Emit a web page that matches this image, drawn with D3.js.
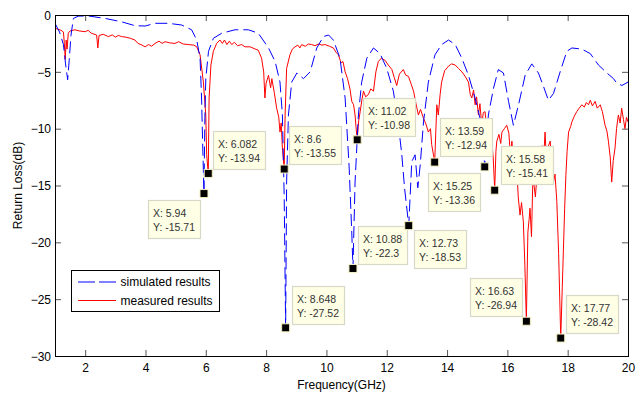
<!DOCTYPE html>
<html><head><meta charset="utf-8">
<script src="https://cdn.jsdelivr.net/npm/d3@7"></script>
<style>
html,body{margin:0;padding:0;background:#fff;}
svg{display:block;font-family:"Liberation Sans",Arial,sans-serif;}
</style></head>
<body>
<svg id="chart" width="642" height="394"></svg>
<script>
// ---------- data ----------
const simFreq = [1.00,1.15,1.28,1.35,1.42,1.47,1.53,1.61,1.77,2.1,2.66,3.21,3.65,3.99,4.32,4.76,5.2,5.53,5.7,5.81,5.86,5.9,5.94,5.97,6.0,6.09,6.25,6.53,6.97,7.41,7.74,8.08,8.3,8.46,8.54,8.6,8.648,8.68,8.74,8.85,9.02,9.24,9.46,9.68,9.9,10.07,10.23,10.45,10.62,10.75,10.84,10.88,10.95,11.06,11.17,11.34,11.56,11.78,12.0,12.22,12.39,12.5,12.59,12.73,12.83,12.94,13.03,13.11,13.22,13.38,13.6,13.82,14.05,14.27,14.49,14.71,14.93,15.15,15.25,15.37,15.54,15.7,15.87,16.04,16.2,16.37,16.59,16.81,17.03,17.2,17.36,17.53,17.75,17.97,18.14,18.47,18.75,19.02,19.3,19.52,19.63,19.8,20.0];
const simRL = [-0.73,-1.5,-2.6,-4.3,-5.7,-4.0,-1.8,-0.3,-0.1,-0.08,-0.3,-0.6,-0.94,-0.97,-0.73,-0.73,-0.88,-1.3,-2.2,-3.8,-7.3,-11.7,-15.71,-9.0,-5.6,-3.2,-2.05,-1.6,-1.3,-1.3,-1.6,-2.9,-4.1,-5.9,-8.8,-16,-27.52,-14.7,-8.8,-5.9,-5.1,-5.6,-5.0,-2.9,-1.9,-1.76,-2.2,-3.8,-7.3,-13.2,-19.1,-22.3,-14.7,-8.8,-5.9,-3.8,-2.9,-3.4,-4.7,-6.7,-9.7,-12.3,-15.2,-18.53,-12.9,-12.3,-15.2,-13.2,-9.4,-5.9,-3.5,-2.6,-2.2,-2.6,-3.8,-5.3,-7.3,-9.7,-13.36,-8.8,-6.45,-4.8,-5.1,-7.6,-9.7,-7.9,-5.3,-4.3,-5.1,-6.3,-7.5,-6.9,-5.0,-3.2,-2.9,-3.0,-3.4,-4.4,-5.1,-5.6,-6.0,-6.2,-5.9];

const measFreq = [1.00,1.1,1.2,1.28,1.31,1.34,1.37,1.40,1.44,1.5,1.66,1.8,2.0,2.1,2.2,2.38,2.42,2.46,2.6,2.77,2.9,3.0,3.1,3.21,3.35,3.5,3.65,3.75,3.85,3.99,4.1,4.2,4.32,4.45,4.55,4.65,4.8,4.98,5.1,5.25,5.42,5.6,5.7,5.81,5.92,6.0,6.03,6.082,6.11,6.17,6.25,6.36,6.47,6.55,6.62,6.7,6.78,6.86,6.95,7.05,7.19,7.3,7.47,7.6,7.74,7.85,7.92,7.96,8.0,8.08,8.15,8.19,8.27,8.35,8.42,8.46,8.5,8.54,8.6,8.63,8.68,8.79,8.87,8.96,9.05,9.12,9.18,9.3,9.4,9.51,9.62,9.75,9.85,9.96,10.1,10.23,10.32,10.4,10.48,10.55,10.62,10.7,10.78,10.84,10.9,10.95,10.98,11.02,11.07,11.12,11.18,11.23,11.3,11.39,11.47,11.56,11.64,11.72,11.82,11.95,12.05,12.17,12.25,12.33,12.42,12.55,12.63,12.72,12.8,12.89,12.97,13.05,13.12,13.22,13.3,13.38,13.45,13.49,13.59,13.66,13.71,13.77,13.82,13.92,14.05,14.15,14.27,14.38,14.49,14.6,14.71,14.77,14.82,14.88,14.93,14.98,15.04,15.09,15.15,15.2,15.26,15.31,15.37,15.42,15.48,15.53,15.58,15.62,15.65,15.72,15.78,15.82,15.9,15.98,16.05,16.1,16.15,16.22,16.28,16.31,16.36,16.42,16.47,16.53,16.58,16.63,16.68,16.72,16.75,16.8,16.84,16.87,16.93,16.98,17.04,17.09,17.15,17.2,17.25,17.3,17.35,17.42,17.48,17.53,17.58,17.64,17.7,17.77,17.82,17.86,17.9,17.94,17.98,18.03,18.1,18.14,18.22,18.3,18.38,18.47,18.55,18.62,18.69,18.75,18.82,18.91,18.98,19.08,19.15,19.24,19.3,19.35,19.41,19.46,19.51,19.57,19.62,19.68,19.74,19.79,19.85,19.9,19.95,20.0];
const measRL = [-1.17,-1.25,-1.35,-1.5,-2.5,-3.9,-2.2,-3.0,-1.6,-1.4,-1.3,-1.4,-1.47,-1.35,-1.6,-1.76,-2.9,-1.8,-1.7,-1.9,-1.75,-1.95,-1.8,-1.9,-1.95,-2.05,-2.2,-2.5,-2.6,-2.8,-2.6,-2.75,-2.5,-2.3,-2.5,-2.35,-2.45,-2.5,-2.35,-2.55,-2.6,-2.65,-2.8,-3.5,-5.9,-8.8,-12.3,-13.94,-7.3,-4.4,-3.2,-2.5,-2.2,-2.5,-2.2,-2.6,-2.3,-2.6,-2.4,-2.7,-2.6,-2.8,-2.8,-2.95,-3.1,-3.8,-5.0,-7.3,-6.0,-5.3,-6.4,-5.6,-6.8,-8.2,-9.0,-10.3,-9.5,-11.7,-13.55,-8.8,-4.7,-3.5,-3.0,-2.8,-2.65,-2.9,-2.6,-2.75,-2.55,-2.6,-2.7,-2.55,-2.65,-2.6,-2.75,-2.9,-3.3,-3.5,-4.2,-4.1,-5.0,-5.6,-6.5,-7.6,-7.9,-8.8,-9.8,-10.98,-9.3,-8.5,-7.4,-6.7,-7.2,-7.0,-6.5,-6.7,-5.0,-4.1,-3.8,-4.0,-4.4,-4.8,-5.5,-6.2,-5.2,-4.8,-5.3,-5.4,-6.0,-6.7,-7.8,-8.8,-8.3,-9.1,-9.6,-10.3,-10.0,-11.4,-12.94,-7.9,-8.8,-7.0,-5.9,-4.9,-4.5,-4.3,-4.4,-4.7,-5.0,-5.4,-5.9,-7.0,-7.3,-6.6,-7.9,-7.2,-8.8,-7.8,-9.7,-8.6,-8.5,-9.8,-10.3,-9.2,-11.1,-12.5,-15.41,-12.0,-11.1,-10.5,-11.3,-10.3,-10.0,-9.7,-10.4,-12.4,-11.1,-13.5,-12.5,-13.2,-16.0,-17.6,-16.5,-18.2,-22,-26.94,-19.1,-18.0,-17.0,-19.5,-15.0,-14.7,-16.0,-14.1,-13.4,-12.3,-11.5,-12.8,-10.3,-13.0,-11.6,-11.1,-13.5,-14.7,-14.0,-16.4,-21,-28.42,-24,-20.5,-17,-14.1,-12.0,-10.3,-9.8,-9.4,-8.9,-8.5,-8.2,-7.9,-8.1,-7.7,-7.9,-7.5,-8.0,-7.6,-8.2,-7.9,-8.5,-9.7,-10.2,-11.1,-12.5,-14.7,-12.8,-11.7,-10.0,-8.8,-9.5,-8.2,-9.2,-10.0,-9.0,-9.4];

const tipX = [5.94, 6.082, 8.6, 11.02, 13.59, 15.25, 15.58, 10.88, 12.73, 8.648, 16.63, 17.77];
const tipY = [-15.71, -13.94, -13.55, -10.98, -12.94, -13.36, -15.41, -22.3, -18.53, -27.52, -26.94, -28.42];
const tipXLabel = ["5.94","6.082","8.6","11.02","13.59","15.25","15.58","10.88","12.73","8.648","16.63","17.77"];
const tipYLabel = ["-15.71","-13.94","-13.55","-10.98","-12.94","-13.36","-15.41","-22.3","-18.53","-27.52","-26.94","-28.42"];

const xTicks = [2,4,6,8,10,12,14,16,18,20];
const yTicks = [0,-5,-10,-15,-20,-25,-30];
const seriesNames = ["simulated results","measured results"];

// ---------- layout ----------
const L = 55, R = 628, T = 15, B = 356;
// data-tip box placement relative to marker (px): [dx, dy]
const tipPlace = [[-56,6],[5,-42],[5,-43],[6,-42],[5,-44],[-57,6],[6,-44],[5,-42],[5,4],[6,-42],[-56,-43],[5,-43]];

const svg = d3.select("#chart");
svg.append("rect").attr("width",642).attr("height",394).attr("fill","#fff");

const x = d3.scaleLinear().domain([1,20]).range([L,R]);
const y = d3.scaleLinear().domain([-30,0]).range([B,T]);

svg.append("defs").append("clipPath").attr("id","clip")
  .append("rect").attr("x",L).attr("y",T).attr("width",R-L).attr("height",B-T);

// axes (MATLAB style ticks inward)
const tickLen = 6;
const gx = svg.append("g").attr("transform",`translate(0,${B})`)
  .call(d3.axisBottom(x).tickValues(xTicks).tickSize(-tickLen).tickPadding(7).tickFormat(d3.format("d")));
const gxt = svg.append("g").attr("transform",`translate(0,${T})`)
  .call(d3.axisTop(x).tickValues(xTicks).tickSize(-tickLen).tickFormat(""));
const gy = svg.append("g").attr("transform",`translate(${L},0)`)
  .call(d3.axisLeft(y).tickValues(yTicks).tickSize(-tickLen).tickPadding(4).tickFormat(d3.format("d")));
const gyr = svg.append("g").attr("transform",`translate(${R},0)`)
  .call(d3.axisRight(y).tickValues(yTicks).tickSize(-tickLen).tickFormat(""));
[gx,gxt,gy,gyr].forEach(g=>{
  g.select(".domain").remove();
  g.selectAll(".tick line").attr("stroke","#555").attr("stroke-width",1);
  g.selectAll(".tick text").attr("font-size",12).attr("fill","#000")
   .attr("font-family","'Liberation Sans',Arial,sans-serif");
});
gy.selectAll(".tick text").attr("dy","0.35em");

// curves
const line = d3.line().x(d=>x(d[0])).y(d=>y(d[1]));
const plot = svg.append("g").attr("clip-path","url(#clip)");
const simData = simFreq.map((f,i)=>[f,simRL[i]]);
const measData = measFreq.map((f,i)=>[f,measRL[i]]);
plot.append("path").datum(measData).attr("d",line)
  .attr("fill","none").attr("stroke","#ff0000").attr("stroke-width",1);
plot.append("path").datum(simData).attr("d",line)
  .attr("fill","none").attr("stroke","#0000ff").attr("stroke-width",1)
  .attr("stroke-dasharray","12,5");

// box frame
svg.append("rect").attr("x",L+0.5).attr("y",T+0.5).attr("width",R-L).attr("height",B-T)
  .attr("fill","none").attr("stroke","#000").attr("stroke-width",1);

// axis labels
svg.append("text").attr("x",(L+R)/2).attr("y",389).attr("text-anchor","middle")
  .attr("font-size",12).text("Frequency(GHz)");
svg.append("text").attr("transform",`translate(22,${(T+B)/2}) rotate(-90)`)
  .attr("text-anchor","middle").attr("font-size",12).text("Return Loss(dB)");

// legend
const lg = svg.append("g");
lg.append("rect").attr("x",71.5).attr("y",270.5).attr("width",148).attr("height",41)
  .attr("fill","#fff").attr("stroke","#000").attr("stroke-width",1);
const legendColors = ["#0000ff","#ff0000"];
const legendDash = ["17,4",null];
seriesNames.forEach((n,i)=>{
  const yy = 282 + i*18.5;
  lg.append("line").attr("x1",78).attr("x2",116).attr("y1",yy).attr("y2",yy)
    .attr("stroke",legendColors[i]).attr("stroke-width",1)
    .attr("stroke-dasharray",legendDash[i]);
  lg.append("text").attr("x",120.5).attr("y",yy+4.3).attr("font-size",12).text(n);
});

// data tips
const tips = svg.append("g");
tipX.forEach((tx,i)=>{
  const mx = x(tx), my = y(tipY[i]);
  const g = tips.append("g");
  const bx = Math.round(mx + tipPlace[i][0]) + 0.5, by = Math.round(my + tipPlace[i][1]) + 0.5;
  const rect = g.append("rect").attr("x",bx).attr("y",by).attr("height",38)
    .attr("fill","#ffffe6").attr("stroke","#d8d8c8").attr("stroke-width",1.2);
  const t1 = g.append("text").attr("x",bx+4.5).attr("y",by+16).attr("font-size",10.5)
    .attr("fill","#333").text("X: " + tipXLabel[i]);
  const t2 = g.append("text").attr("x",bx+4.5).attr("y",by+30).attr("font-size",10.5)
    .attr("fill","#333").text("Y: " + tipYLabel[i]);
  const w = Math.max(t1.node().getComputedTextLength(), t2.node().getComputedTextLength());
  rect.attr("width", Math.round(w + 10));
  tips.append("rect").attr("x",mx-4).attr("y",my-4).attr("width",8).attr("height",8)
    .attr("fill","#000").attr("stroke","#f5f0c0").attr("stroke-width",1);
});
</script>
</body></html>
